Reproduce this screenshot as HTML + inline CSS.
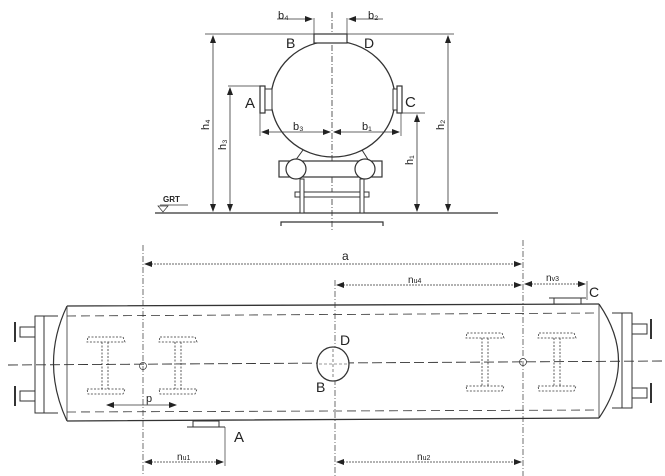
<!DOCTYPE html>
<html><head><meta charset="utf-8"><style>
html,body{margin:0;padding:0;background:#fff}
svg{display:block}
text{font-family:"Liberation Sans",sans-serif;fill:#222}
</style></head><body>
<svg width="665" height="476" viewBox="0 0 665 476" xmlns="http://www.w3.org/2000/svg">
<defs>
<marker id="ar" markerWidth="8" markerHeight="6" refX="7" refY="3" orient="auto-start-reverse" markerUnits="userSpaceOnUse"><path d="M0,0 L8,3 L0,6 Z" fill="#222"/></marker>
</defs>
<g stroke="#333" fill="none" stroke-width="1">
<!-- TOP VIEW -->
<line x1="205" y1="34" x2="454" y2="34" stroke-width="0.8"/>
<line x1="155" y1="213" x2="498" y2="213" stroke-width="1.2"/>
<line x1="332" y1="12" x2="332" y2="232" stroke-dasharray="6,2,1,2" stroke-width="0.8"/>
<ellipse cx="333" cy="99" rx="62" ry="58" stroke-width="1.3"/>
<rect x="314" y="34" width="33" height="9" fill="#fff" stroke-width="1.2"/>
<line x1="314" y1="34" x2="314" y2="18" stroke-width="0.7"/>
<line x1="347" y1="34" x2="347" y2="18" stroke-width="0.7"/>
<rect x="260" y="86" width="5" height="27" fill="#fff" stroke-width="1.2"/>
<rect x="265" y="89" width="7" height="21" fill="#fff"/>
<rect x="397" y="86" width="5" height="27" fill="#fff" stroke-width="1.2"/>
<rect x="393" y="89" width="4" height="21" fill="#fff"/>
<!-- dims -->
<line x1="277" y1="19" x2="312" y2="19" marker-end="url(#ar)" stroke-width="0.8"/>
<line x1="383" y1="19" x2="349" y2="19" marker-end="url(#ar)" stroke-width="0.8"/>
<line x1="260" y1="113" x2="260" y2="136" stroke-width="0.7"/>
<line x1="401" y1="113" x2="401" y2="136" stroke-width="0.7"/>
<line x1="262" y1="132" x2="330" y2="132" marker-start="url(#ar)" marker-end="url(#ar)" stroke-width="0.8"/>
<line x1="334" y1="132" x2="399" y2="132" marker-start="url(#ar)" marker-end="url(#ar)" stroke-width="0.8"/>
<line x1="228" y1="86" x2="260" y2="86" stroke-width="0.7"/>
<line x1="402" y1="113" x2="425" y2="113" stroke-width="0.7"/>
<line x1="213" y1="36" x2="213" y2="211" marker-start="url(#ar)" marker-end="url(#ar)" stroke-width="0.8"/>
<line x1="230" y1="88" x2="230" y2="211" marker-start="url(#ar)" marker-end="url(#ar)" stroke-width="0.8"/>
<line x1="417" y1="115" x2="417" y2="211" marker-start="url(#ar)" marker-end="url(#ar)" stroke-width="0.8"/>
<line x1="448" y1="36" x2="448" y2="211" marker-start="url(#ar)" marker-end="url(#ar)" stroke-width="0.8"/>
<!-- saddle -->
<path d="M295,161 L303,150 M369,161 L362,150"/>
<rect x="279" y="161" width="103" height="16" fill="#fff" stroke-width="1.2"/>
<circle cx="296" cy="169" r="10" fill="#fff" stroke-width="1.2"/>
<circle cx="365" cy="169" r="10" fill="#fff" stroke-width="1.2"/>
<rect x="295" y="192" width="74" height="5" fill="#fff"/>
<rect x="300" y="179" width="4" height="34" fill="#fff"/>
<rect x="360" y="179" width="4" height="34" fill="#fff"/>
<path d="M281,226 L281,222 L383,222 L383,226" stroke-width="1.2"/>
<line x1="160" y1="205" x2="188" y2="205" stroke-width="0.7"/>
<path d="M158,206 L168,206 L163,212 Z" stroke-width="0.7"/>

<!-- BOTTOM VIEW -->
<line x1="143" y1="245" x2="143" y2="476" stroke-dasharray="6,2,1,2" stroke-width="0.7"/>
<line x1="335" y1="280" x2="335" y2="476" stroke-dasharray="6,2,1,2" stroke-width="0.7"/>
<line x1="523" y1="240" x2="523" y2="476" stroke-dasharray="6,2,1,2" stroke-width="0.7"/>
<line x1="145" y1="264" x2="521" y2="264" marker-start="url(#ar)" marker-end="url(#ar)" stroke-width="0.8" stroke-dasharray="2,1"/>
<line x1="337" y1="285" x2="521" y2="285" marker-start="url(#ar)" marker-end="url(#ar)" stroke-width="0.8" stroke-dasharray="2,1"/>
<line x1="525" y1="284" x2="585" y2="284" marker-start="url(#ar)" marker-end="url(#ar)" stroke-width="0.8" stroke-dasharray="2,1"/>
<line x1="587" y1="281" x2="587" y2="300" stroke-width="0.7"/>
<!-- vessel -->
<path d="M67,306 L599,304 M67,421 L599,418" stroke-width="1.3"/>
<path d="M67,306 Q40,363 67,421" stroke-width="1.2"/>
<path d="M599,304 Q638,361 599,418" stroke-width="1.2"/>
<line x1="67" y1="306" x2="67" y2="421" stroke-width="0.8"/>
<line x1="599" y1="304" x2="599" y2="418" stroke-width="0.8"/>
<rect x="35" y="316" width="9" height="97" fill="#fff"/>
<line x1="44" y1="316" x2="58" y2="316"/><line x1="44" y1="413" x2="58" y2="413"/>
<rect x="622" y="313" width="10" height="95" fill="#fff"/>
<line x1="612" y1="313" x2="622" y2="313"/><line x1="612" y1="408" x2="622" y2="408"/>
<rect x="20" y="327" width="15" height="10"/><line x1="15" y1="322" x2="15" y2="342" stroke-width="2"/>
<rect x="20" y="391" width="15" height="10"/><line x1="15" y1="386" x2="15" y2="406" stroke-width="2"/>
<rect x="632" y="324" width="15" height="10"/><line x1="651" y1="319" x2="651" y2="339" stroke-width="2"/>
<rect x="632" y="388" width="15" height="10"/><line x1="651" y1="383" x2="651" y2="403" stroke-width="2"/>
<line x1="67" y1="316" x2="599" y2="313" stroke-dasharray="9,5" stroke-width="0.8"/>
<line x1="67" y1="412" x2="599" y2="410" stroke-dasharray="9,5" stroke-width="0.8"/>
<line x1="8" y1="365" x2="662" y2="361" stroke-dasharray="10,4" stroke-width="0.9"/>
<rect x="554" y="298" width="27" height="6" fill="#fff"/>
<line x1="549" y1="298" x2="586" y2="298"/>
<rect x="193" y="421" width="26" height="6" fill="#fff"/>
<line x1="187" y1="427" x2="225" y2="427"/>
<line x1="225" y1="427" x2="225" y2="466" stroke-width="0.7"/>
<line x1="145" y1="462" x2="223" y2="462" marker-start="url(#ar)" marker-end="url(#ar)" stroke-width="0.8" stroke-dasharray="2,1"/>
<line x1="337" y1="462" x2="521" y2="462" marker-start="url(#ar)" marker-end="url(#ar)" stroke-width="0.8" stroke-dasharray="2,1"/>
<ellipse cx="333" cy="364" rx="16" ry="17" fill="#fff" stroke-width="1.3"/>
<path d="M333,349 V379 M319,364 H347" stroke-dasharray="3,2" stroke-width="0.6"/>
<circle cx="143" cy="366" r="3.5" stroke-width="0.7"/>
<circle cx="523" cy="362" r="3.5" stroke-width="0.7"/>
<line x1="107" y1="405" x2="176" y2="405" marker-start="url(#ar)" marker-end="url(#ar)" stroke-width="0.8"/>
<g stroke-dasharray="2,1.5" stroke-width="0.8">
<path d="M88,337 L123,337 L125,342 L87,342 Z M102,342 V389 M108,342 V389 M87,389 L125,389 L123,394 L88,394 Z"/>
<path d="M160,337 L195,337 L197,342 L159,342 Z M175,342 V389 M181,342 V389 M159,389 L197,389 L195,394 L160,394 Z"/>
<path d="M467,333 L502,333 L504,338 L466,338 Z M482,338 V386 M488,338 V386 M466,386 L504,386 L502,391 L467,391 Z"/>
<path d="M539,333 L574,333 L576,338 L538,338 Z M554,338 V386 M560,338 V386 M538,386 L576,386 L574,391 L539,391 Z"/>
</g>
</g>
<!-- labels -->
<text x="278" y="19" font-size="11">b₄</text>
<text x="368" y="19" font-size="11">b₂</text>
<text x="286" y="48" font-size="14">B</text>
<text x="364" y="48" font-size="14">D</text>
<text x="245" y="108" font-size="15">A</text>
<text x="405" y="107" font-size="15">C</text>
<text x="293" y="130" font-size="11">b₃</text>
<text x="362" y="130" font-size="11">b₁</text>
<text x="209" y="130" font-size="11" transform="rotate(-90 209 130)">h₄</text>
<text x="226" y="150" font-size="11" transform="rotate(-90 226 150)">h₃</text>
<text x="413" y="165" font-size="11" transform="rotate(-90 413 165)">h₁</text>
<text x="444" y="130" font-size="11" transform="rotate(-90 444 130)">h₂</text>
<text x="163" y="202" font-size="8" font-weight="bold">GRT</text>
<text x="342" y="260" font-size="12">a</text>
<text x="408" y="283" font-size="10">n<tspan font-size="7">u4</tspan></text>
<text x="546" y="281" font-size="10">n<tspan font-size="7">v3</tspan></text>
<text x="589" y="297" font-size="14">C</text>
<text x="340" y="345" font-size="14">D</text>
<text x="316" y="392" font-size="14">B</text>
<text x="146" y="402" font-size="11">p</text>
<text x="234" y="442" font-size="15">A</text>
<text x="177" y="460" font-size="10">n<tspan font-size="7">u1</tspan></text>
<text x="417" y="460" font-size="10">n<tspan font-size="7">u2</tspan></text>
</svg>
</body></html>
